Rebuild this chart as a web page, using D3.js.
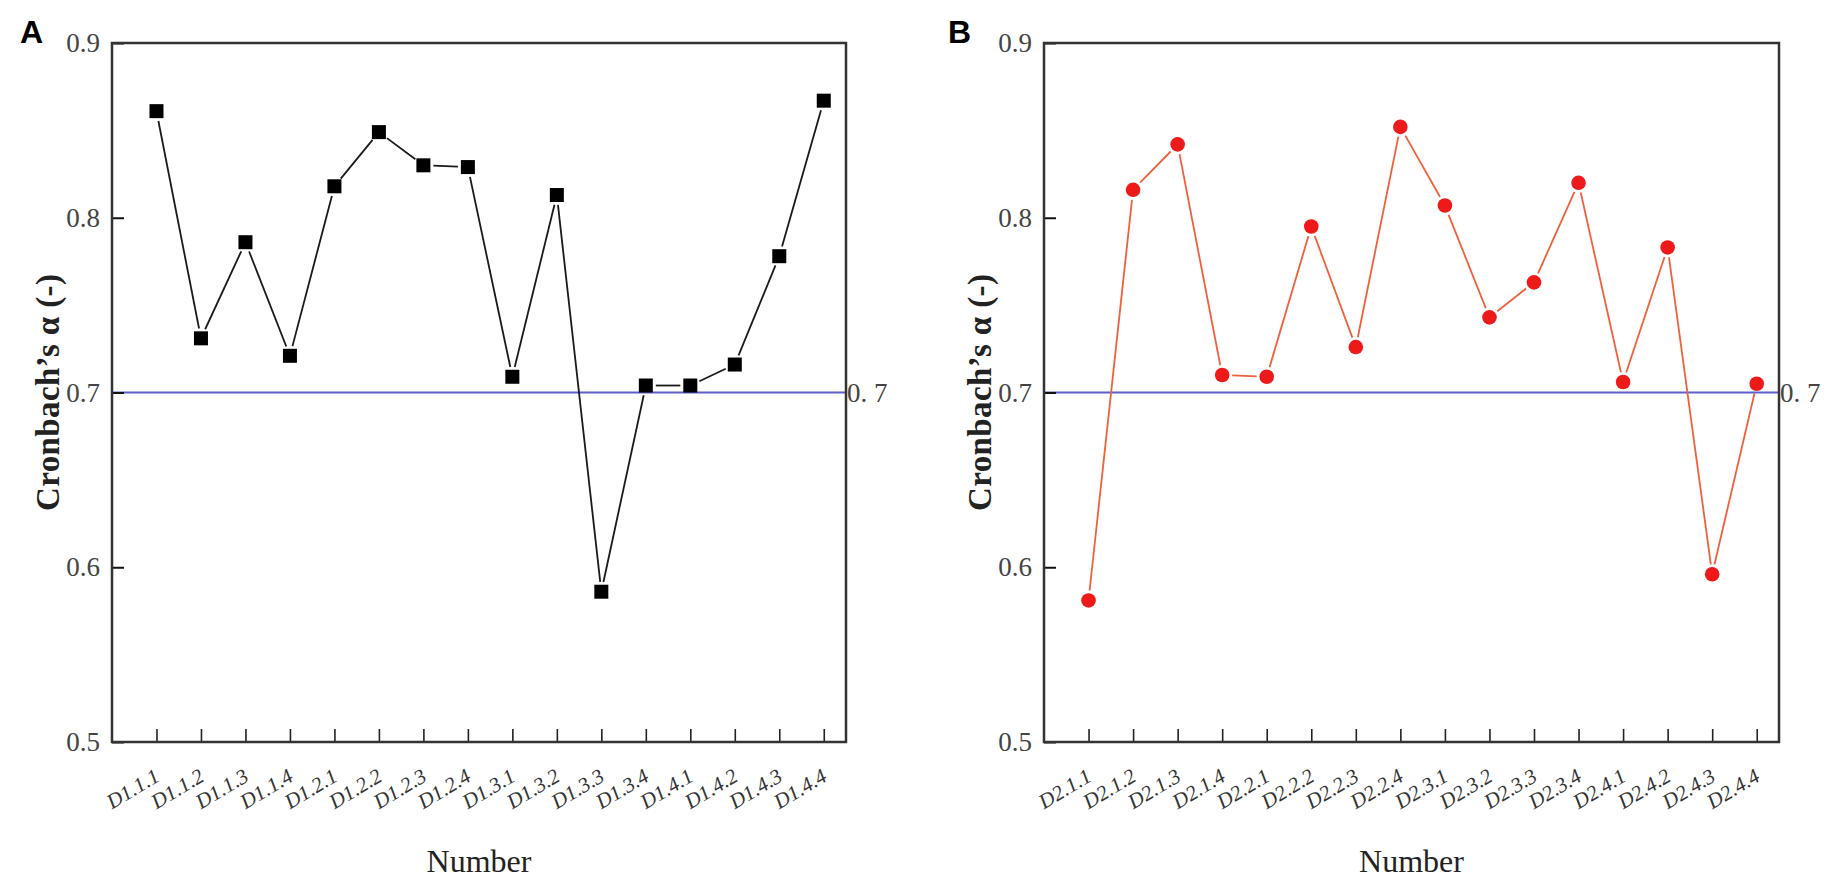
<!DOCTYPE html>
<html>
<head>
<meta charset="utf-8">
<script src="https://cdn.jsdelivr.net/npm/d3@7/dist/d3.min.js"></script>
<style>
html,body{margin:0;padding:0;background:#fff;}
svg{display:block;}
</style>
</head>
<body>
<svg id="chart" width="1825" height="880"></svg>
<script>
// ---- Data ----
const categoriesA = ["D1.1.1","D1.1.2","D1.1.3","D1.1.4","D1.2.1","D1.2.2","D1.2.3","D1.2.4",
                     "D1.3.1","D1.3.2","D1.3.3","D1.3.4","D1.4.1","D1.4.2","D1.4.3","D1.4.4"];
const valuesA = [0.861,0.731,0.786,0.721,0.818,0.849,0.830,0.829,
                 0.709,0.813,0.586,0.704,0.704,0.716,0.778,0.867];
const categoriesB = ["D2.1.1","D2.1.2","D2.1.3","D2.1.4","D2.2.1","D2.2.2","D2.2.3","D2.2.4",
                     "D2.3.1","D2.3.2","D2.3.3","D2.3.4","D2.4.1","D2.4.2","D2.4.3","D2.4.4"];
const valuesB = [0.581,0.816,0.842,0.710,0.709,0.795,0.726,0.852,
                 0.807,0.743,0.763,0.820,0.706,0.783,0.596,0.705];
const yTicks = [0.5,0.6,0.7,0.8,0.9];
const yDomain = [0.5,0.9];
const threshold = 0.7;
const thresholdLabel = "0. 7";
const yTitle = "Cronbach\u2019s \u03b1 (-)";
const xTitle = "Number";

(function(){
// ---- Layout ----
const svg = d3.select("#chart");
const plotTop = 43, plotBottom = 742;
const panels = [
  {id:"A", left:112, right:846, cats:categoriesA, vals:valuesA, marker:"square",
   lineColor:"#1a1a1a", markColor:"#000"},
  {id:"B", left:1044, right:1779, cats:categoriesB, vals:valuesB, marker:"circle",
   lineColor:"#f0603c", markColor:"#ee1a1a"}
];
const serif = "'Liberation Serif','Times New Roman',serif";

panels.forEach(p => {
  const g = svg.append("g");
  const x = d3.scaleLinear().domain([0, p.cats.length + 0.5]).range([p.left, p.right]);
  const y = d3.scaleLinear().domain(yDomain).range([plotBottom, plotTop]);

  // threshold line
  g.append("line")
    .attr("x1", p.left).attr("x2", p.right)
    .attr("y1", y(threshold)).attr("y2", y(threshold))
    .attr("stroke", "#5f5fd0").attr("stroke-width", 2);

  // y axis
  const ya = g.append("g").attr("transform", `translate(${p.left},0)`)
    .call(d3.axisLeft(y).tickValues(yTicks).tickSize(-12).tickPadding(12).tickFormat(d3.format(".1f")));
  ya.select(".domain").remove();
  ya.selectAll(".tick line").attr("stroke", "#111").attr("stroke-width", 2);
  ya.selectAll(".tick text").attr("font-family", serif).attr("font-size", 27).attr("fill", "#444");

  // x axis
  const xa = g.append("g").attr("transform", `translate(0,${plotBottom})`)
    .call(d3.axisBottom(x).tickValues(d3.range(1, p.cats.length + 1)).tickSize(-13)
      .tickFormat(i => p.cats[i - 1]));
  xa.select(".domain").remove();
  xa.selectAll(".tick line").attr("stroke", "#222").attr("stroke-width", 1.6);
  xa.selectAll(".tick text")
    .attr("font-family", serif).attr("font-style", "italic").attr("font-size", 21).attr("fill", "#333")
    .attr("text-anchor", "end").attr("x", 4).attr("y", 38).attr("dy", 0)
    .attr("transform", "rotate(-31,4,38)");

  // frame
  g.append("rect")
    .attr("x", p.left).attr("y", plotTop)
    .attr("width", p.right - p.left).attr("height", plotBottom - plotTop)
    .attr("fill", "none").attr("stroke", "#333").attr("stroke-width", 2.5);

  // threshold label
  g.append("text")
    .attr("x", p.right + 1).attr("y", y(threshold)).attr("dy", "0.35em")
    .attr("font-family", serif).attr("font-size", 27).attr("fill", "#444")
    .text(thresholdLabel);

  // connecting line segments with small gaps at markers
  const pts = p.vals.map((v, i) => [x(i + 1), y(v)]);
  const gap = 10;
  const segs = d3.pairs(pts).map(([a, b]) => {
    const dx = b[0] - a[0], dy = b[1] - a[1];
    const L = Math.hypot(dx, dy);
    const ux = dx / L, uy = dy / L;
    return [a[0] + ux * gap, a[1] + uy * gap, b[0] - ux * gap, b[1] - uy * gap, L];
  }).filter(s => s[4] > 2 * gap);
  g.selectAll("line.seg").data(segs).enter().append("line")
    .attr("class", "seg")
    .attr("x1", s => s[0]).attr("y1", s => s[1]).attr("x2", s => s[2]).attr("y2", s => s[3])
    .attr("stroke", p.lineColor).attr("stroke-width", 1.8);

  // markers
  if (p.marker === "square") {
    const s = 14;
    g.selectAll("rect.mk").data(p.vals).enter().append("rect")
      .attr("class", "mk")
      .attr("x", (v, i) => x(i + 1) - s / 2).attr("y", v => y(v) - s / 2)
      .attr("width", s).attr("height", s).attr("fill", p.markColor);
  } else {
    g.selectAll("circle.mk").data(p.vals).enter().append("circle")
      .attr("class", "mk")
      .attr("cx", (v, i) => x(i + 1)).attr("cy", v => y(v)).attr("r", 7.3)
      .attr("fill", p.markColor);
  }

  // y title
  const yc = (plotTop + plotBottom) / 2;
  g.append("text")
    .attr("transform", `translate(${p.left - 53},${yc}) rotate(-90)`)
    .attr("text-anchor", "middle")
    .attr("font-family", serif).attr("font-weight", "bold").attr("font-size", 33).attr("fill", "#222")
    .attr("textLength", 237).attr("lengthAdjust", "spacing")
    .text(yTitle);

  // x title
  g.append("text")
    .attr("x", (p.left + p.right) / 2).attr("y", 872)
    .attr("text-anchor", "middle")
    .attr("font-family", serif).attr("font-size", 32).attr("fill", "#222")
    .text(xTitle);

  // panel letter
  g.append("text")
    .attr("x", p.id === "A" ? 20 : 948).attr("y", 43)
    .attr("font-family", "'Liberation Sans',Arial,sans-serif").attr("font-weight", "bold")
    .attr("font-size", 32).attr("fill", "#000")
    .text(p.id);
});
})();
</script>
</body>
</html>
